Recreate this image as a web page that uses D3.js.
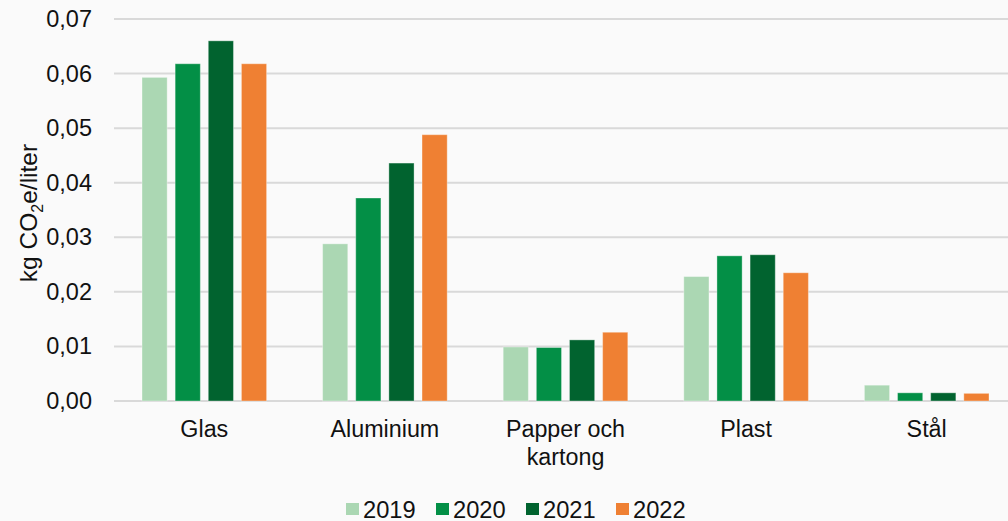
<!DOCTYPE html>
<html>
<head>
<meta charset="utf-8">
<script src="https://cdn.jsdelivr.net/npm/d3@7"></script>
<style>
  body { margin: 0; background: #fafafa; }
  svg { display: block; font-family: "Liberation Sans", Arial, sans-serif; }
</style>
</head>
<body>
<svg width="1008" height="521"></svg>
<script>
// Chart data
var categories = [["Glas"], ["Aluminium"], ["Papper och", "kartong"], ["Plast"], ["Stål"]];
var years = ["2019", "2020", "2021", "2022"];
var values = {
    "2019": [0.0593, 0.0288, 0.0099, 0.0228, 0.0029],
    "2020": [0.0618, 0.0372, 0.0098, 0.0266, 0.0015],
    "2021": [0.0660, 0.0436, 0.0112, 0.0268, 0.0015],
    "2022": [0.0618, 0.0488, 0.0126, 0.0235, 0.0014]
};
var yTicks = [0, 0.01, 0.02, 0.03, 0.04, 0.05, 0.06, 0.07];
var colors = ["#abd7b3", "#038f46", "#01632f", "#ef8033"];

var svg = d3.select("svg"),
    margin = {top: 19, right: -9, bottom: 120, left: 114},
    width = 1008 - margin.left - margin.right,
    height = 521 - margin.top - margin.bottom;

var g = svg.append("g").attr("transform", "translate(" + margin.left + "," + margin.top + ")");

var x0 = d3.scaleBand()
    .domain(d3.range(categories.length))
    .range([0, width])
    .paddingInner(0.31)
    .paddingOuter(0.155);

var x1 = d3.scaleBand()
    .domain(years)
    .range([0, x0.bandwidth()])
    .paddingInner(0.24);

var y = d3.scaleLinear().domain([0, 0.07]).range([height, 0]);

var fmt = function(d) { return d3.format(".2f")(d).replace(".", ","); };

// gridlines
g.append("g")
    .selectAll("line")
    .data(yTicks)
    .enter()
    .append("line")
      .attr("x1", 0)
      .attr("x2", 1008 - margin.left)
      .attr("y1", function(d) { return y(d); })
      .attr("y2", function(d) { return y(d); })
      .attr("stroke", "#d9d9d9")
      .attr("stroke-width", 2);

// y axis labels
var yAxis = g.append("g")
    .call(d3.axisLeft(y).tickValues(yTicks).tickFormat(fmt).tickSize(0).tickPadding(22));
yAxis.select(".domain").remove();
yAxis.selectAll("text")
    .attr("font-size", "23.5px")
    .attr("fill", "#111")
    .attr("font-family", "Liberation Sans, Arial, sans-serif");

// y axis title with subscript
var yt = svg.append("text")
    .attr("transform", "translate(37,213) rotate(-90)")
    .attr("text-anchor", "middle")
    .attr("font-size", "24.5px")
    .attr("fill", "#111");
yt.append("tspan").text("kg CO");
yt.append("tspan").attr("font-size", "16px").attr("dy", "6").text("2");
yt.append("tspan").attr("dy", "-6").text("e/liter");

// bars
var groups = g.selectAll("g.cat")
    .data(categories)
    .enter()
    .append("g")
      .attr("class", "cat")
      .attr("transform", function(d, i) { return "translate(" + x0(i) + ",0)"; });

groups.selectAll("rect")
    .data(function(d, i) { return years.map(function(yr, j) { return {year: yr, val: values[yr][i], c: colors[j]}; }); })
    .enter()
    .append("rect")
      .attr("x", function(d) { return x1(d.year); })
      .attr("y", function(d) { return y(d.val); })
      .attr("width", x1.bandwidth())
      .attr("height", function(d) { return height - y(d.val); })
      .attr("fill", function(d) { return d.c; })
      .attr("stroke", "rgba(255,255,255,0.35)")
      .attr("stroke-width", 1);

// category labels
groups.append("text")
    .attr("x", x0.bandwidth() / 2)
    .attr("y", 437 - margin.top)
    .attr("text-anchor", "middle")
    .attr("font-size", "23.3px")
    .attr("fill", "#111")
    .selectAll("tspan")
    .data(function(d) { return d; })
    .enter()
    .append("tspan")
      .attr("x", x0.bandwidth() / 2)
      .attr("dy", function(d, i) { return i == 0 ? 0 : 28; })
      .text(function(d) { return d; });

// legend
var legend = svg.append("g").attr("transform", "translate(346,509)");
var items = legend.selectAll("g")
    .data(years)
    .enter()
    .append("g")
      .attr("transform", function(d, i) { return "translate(" + (i * 90) + ",0)"; });
items.append("rect")
    .attr("x", 0).attr("y", -6).attr("width", 13).attr("height", 12)
    .attr("fill", function(d, i) { return colors[i]; });
items.append("text")
    .attr("x", 17)
    .attr("y", 8.5)
    .attr("font-size", "23.7px")
    .attr("fill", "#111")
    .text(function(d) { return d; });
</script>
</body>
</html>
